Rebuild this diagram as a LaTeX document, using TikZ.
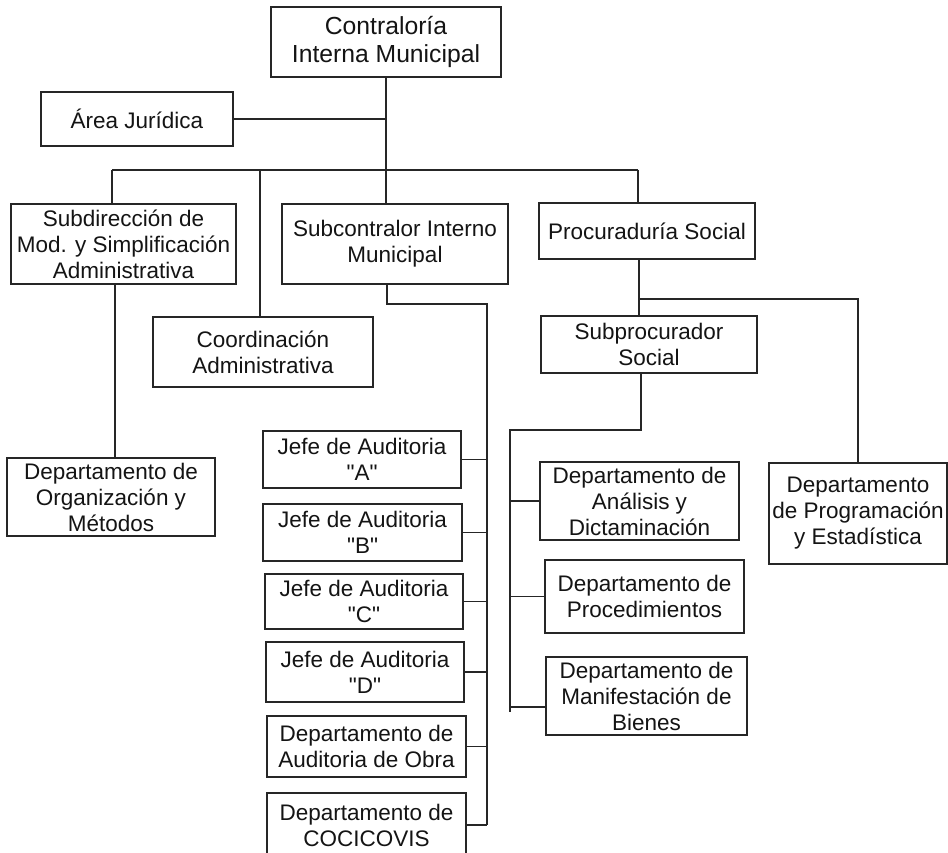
\documentclass[tikz,border=0pt]{standalone}
\usepackage{fontspec}
\setmainfont{Liberation Sans}
\newcommand{\qd}[1]{\textquotedbl#1\textquotedbl}
\begin{document}
\begin{tikzpicture}[x=1pt,y=-1pt,
  orgbox/.style={draw=black!85, line width=1.7pt, inner sep=0pt, align=center,
    font=\fontsize{22.5}{26}\selectfont, text=black!92},
  link/.style={draw=black!85, line width=1.7pt}]
\clip (0,0) rectangle (948,853);
\fill[white] (0,0) rectangle (948,853);

% top level
\node[orgbox, minimum width=230, minimum height=70,
  font=\fontsize{24.7}{28}\selectfont] (cim) at (386,42)
  {Contraloría\\Interna Municipal};
\node[orgbox, minimum width=192, minimum height=54] (aj) at (137,119)
  {Área Jurídica};

% second level
\node[orgbox, minimum width=225, minimum height=80] (smsa) at (123.5,244)
  {Subdirección de\\Mod. y Simplificación\\Administrativa};
\node[orgbox, minimum width=220, minimum height=70] (ca) at (263,352)
  {Coordinación\\Administrativa};
\node[orgbox, minimum width=226, minimum height=80] (sic) at (395,244)
  {Subcontralor Interno\\Municipal};
\node[orgbox, minimum width=216, minimum height=56] (ps) at (647,231)
  {Procuraduría Social};

% under the Subdirección
\node[orgbox, minimum width=208, minimum height=78] (dom) at (111,497)
  {Departamento de\\Organización y\\Métodos};

% under the Procuraduría
\node[orgbox, minimum width=216, minimum height=57] (sp) at (649,344.5)
  {Subprocurador\\Social};
\node[orgbox, minimum width=178, minimum height=101] (dpe) at (858,513.5)
  {Departamento\\de Programación\\y Estadística};
\node[orgbox, minimum width=199, minimum height=78] (dad) at (639.5,501)
  {Departamento de\\Análisis y\\Dictaminación};
\node[orgbox, minimum width=199, minimum height=73] (dpr) at (644.5,596.5)
  {Departamento de\\Procedimientos};
\node[orgbox, minimum width=201, minimum height=78] (dmb) at (646.5,696)
  {Departamento de\\Manifestación de\\Bienes};

% under the Subcontralor
\node[orgbox, minimum width=198, minimum height=57] (ja) at (362,459.5)
  {Jefe de Auditoria\\\qd{A}};
\node[orgbox, minimum width=199, minimum height=57] (jb) at (362.5,532.5)
  {Jefe de Auditoria\\\qd{B}};
\node[orgbox, minimum width=198, minimum height=55] (jc) at (364,601.5)
  {Jefe de Auditoria\\\qd{C}};
\node[orgbox, minimum width=198, minimum height=60] (jd) at (365,672)
  {Jefe de Auditoria\\\qd{D}};
\node[orgbox, minimum width=199, minimum height=61] (dao) at (366.5,746.5)
  {Departamento de\\Auditoria de Obra};
\node[orgbox, minimum width=199, minimum height=64] (dco) at (366.5,825)
  {Departamento de\\COCICOVIS};

% bus and rail points
\coordinate (busL) at (112,170);
\coordinate (busC) at (260,170);
\coordinate (busR) at (638,170);
\coordinate (audTurn) at (487,304);
\coordinate (spTurn) at (641,430);
\coordinate (depRail) at (510,430);
\coordinate (progTurn) at (858,299);

% trunk from the Contraloría to the Subcontralor
\draw[link] (cim.south) -- (cim.south |- sic.north);
\draw[link] (aj.east) -- (aj.east -| cim.south);
\draw[link] (busL) -- (busR);
\draw[link] (busL) -- (busL |- smsa.north);
\draw[link] (busC) -- (busC |- ca.north);
\draw[link] (busR) -- (busR |- ps.north);

% Subdirección to its department
\draw[link] (smsa.south -| dom.north) ++(4,0) -- ++(0,174);

% Procuraduría branch
\draw[link] (ps.south -| busR) ++(1,0) -- ++(0,57);
\draw[link] (639,299) -- (progTurn) -- (progTurn |- dpe.north);
\draw[link] (spTurn |- sp.south) -- (spTurn) -- (depRail) -- (510,712);
\draw[link] (dad.west) -- (dad.west -| depRail);
\draw[link] (dpr.west) -- (dpr.west -| depRail);
\draw[link] (dmb.west) ++(0,11) -- (depRail |- 0,707);

% Subcontralor to the audit offices
\draw[link] (sic.south) ++(-8,0) -- (387,304) -- (audTurn) -- (audTurn |- dco.east);
\foreach \n in {ja,jb,jc,jd,dao,dco}
  \draw[link] (\n.east) -- (\n.east -| audTurn);
\end{tikzpicture}
\end{document}
